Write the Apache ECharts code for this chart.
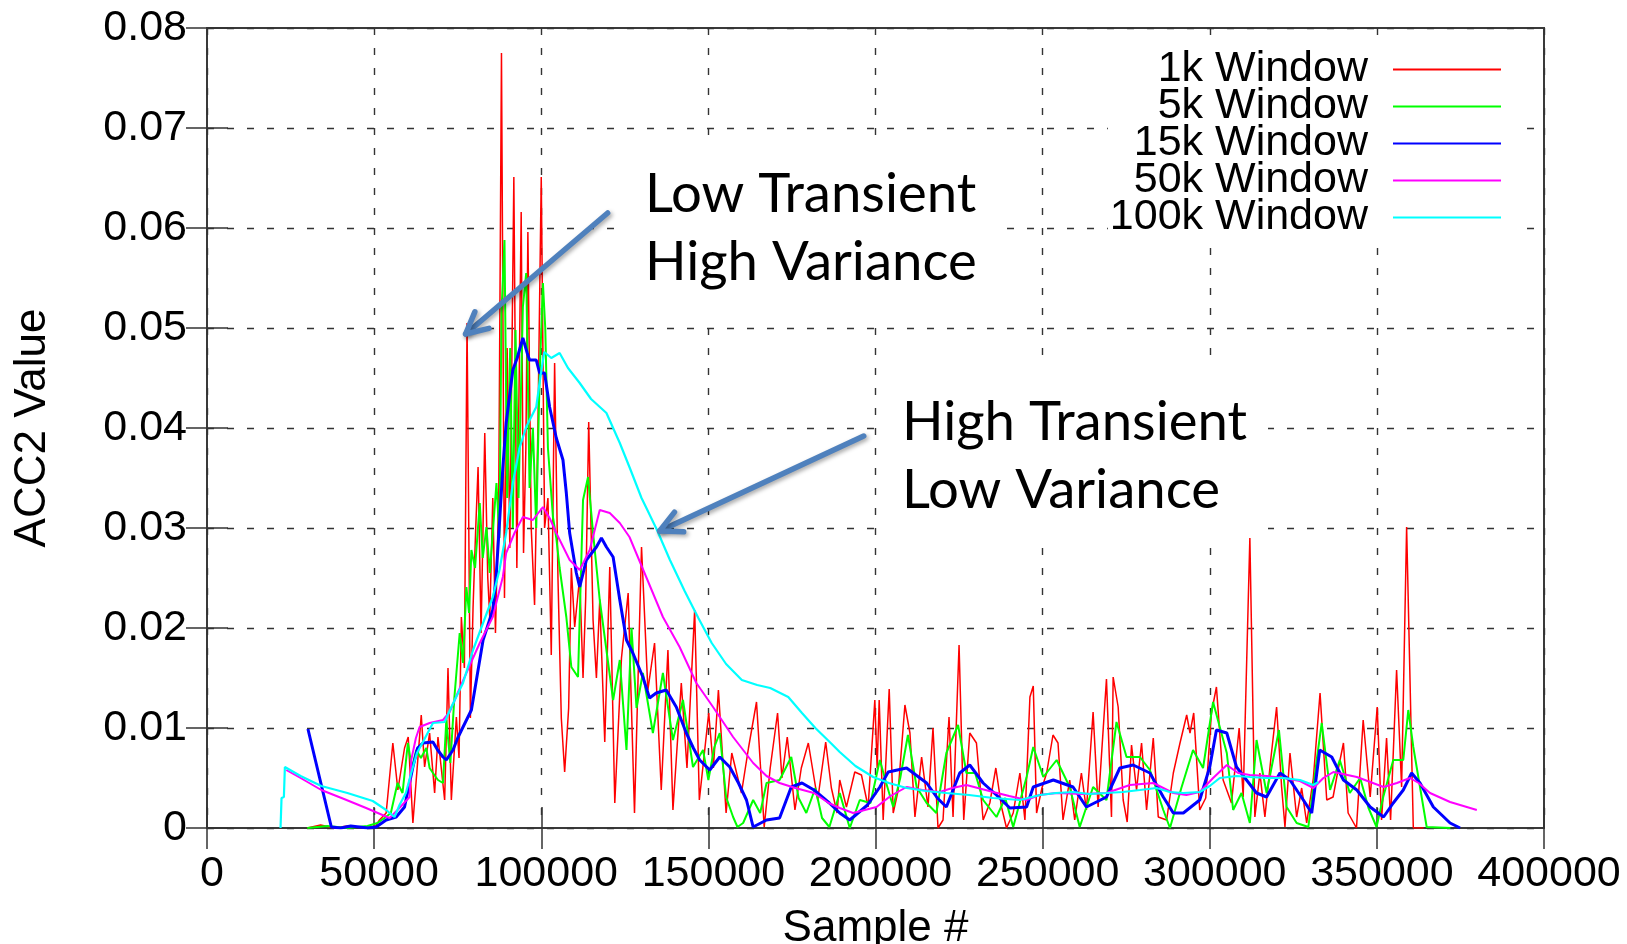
<!DOCTYPE html>
<html>
<head>
<meta charset="utf-8">
<title>ACC2 Value vs Sample #</title>
<script src="https://cdn.jsdelivr.net/npm/echarts@6/dist/echarts.min.js"></script>
<style>
  html, body { margin: 0; padding: 0; background: #fff; }
  #chart { width: 1627px; height: 944px; }
</style>
</head>
<body>
<div id="chart"></div>
<script>
// series names and colours (gnuplot defaults)
var seriesNames = ['1k Window', '5k Window', '15k Window', '50k Window', '100k Window'];
var seriesColors = ['#ff0000', '#00ff00', '#0000ff', '#ff00ff', '#00ffff'];
var seriesWidths = [1.5, 2, 3, 2, 2.2];

// [sample #, ACC2 value]
var win1k = [
  [30000,0],[34000,0.0003],[38000,0],[42000,0.0002],[47000,0],[50500,0.0002],[51600,0.0008],[53600,0.0015],
  [55600,0.0085],[57100,0.0038],[59100,0.0080],[60200,0.0091],[61600,0.0005],[64100,0.0113],[65100,0.0061],
  [66600,0.0095],[68100,0.0035],[69100,0.0091],[71100,0.0028],[72100,0.0160],[73100,0.0028],[74600,0.0111],
  [75400,0.0070],[76100,0.0211],[77000,0.0160],[77800,0.0505],[78800,0.0110],[79600,0.0221],[80400,0.0300],
  [81100,0.0361],[82000,0.0195],[83100,0.0395],[84000,0.0250],[84600,0.0210],[85500,0.0330],[86300,0.0195],
  [87300,0.0340],[88100,0.0775],[89000,0.0230],[89800,0.0480],[90600,0.0280],[91800,0.0651],[92700,0.0260],
  [94000,0.0616],[94700,0.0275],[95400,0.0380],[96000,0.0596],[97000,0.0300],[98000,0.0223],[99000,0.0400],
  [100000,0.0651],[101000,0.0300],[102000,0.0330],[103000,0.0173],[104000,0.0465],[105000,0.0250],
  [106000,0.0110],[107000,0.0056],[108200,0.0120],[109000,0.0260],[110000,0.0201],[111500,0.0251],
  [112500,0.0150],[113300,0.0230],[114200,0.0406],[115500,0.0208],[116500,0.0150],[117500,0.0228],
  [119000,0.0086],[120500,0.0261],[122000,0.0025],[124000,0.0170],[126000,0.0235],[127900,0.0015],
  [130000,0.0281],[131900,0.0138],[133900,0.0185],[135900,0.0038],[137900,0.0178],[139400,0.0018],
  [141900,0.0145],[143600,0.0060],[145900,0.0218],[147300,0.0028],[150100,0.0115],[151500,0.0060],
  [153000,0.0138],[155300,0.0015],[157000,0.0075],[159900,0.0035],[162000,0.0080],[164400,0.0126],
  [166700,0.0001],[168500,0.0060],[170700,0.0115],[172000,0.0050],[173600,0.0091],[175900,0.0018],
  [177800,0.0060],[179900,0.0085],[182700,0.0028],[185100,0.0086],[186800,0.0040],[188500,0.0015],
  [189300,0.0048],[191300,0.0021],[193800,0.0056],[195800,0.0053],[197800,0.0021],[199800,0.0128],
  [200500,0.0060],[201100,0.0128],[202300,0.0008],[204100,0.0139],[205300,0.0015],[206800,0.0038],
  [208800,0.0123],[210300,0.0095],[211800,0.0011],[213800,0.0071],[215700,0.0021],[217200,0.0100],
  [218700,0],[220200,0.0008],[222000,0.0111],[223200,0.0011],[225000,0.0183],[226400,0.0008],
  [228200,0.0095],[230200,0.0085],[232200,0.0008],[234200,0.0025],[236000,0.0060],[237700,0.0021],
  [239200,0],[241200,0.0015],[243200,0.0055],[244700,0.0008],[246200,0.0131],[247200,0.0142],
  [248200,0.0015],[249800,0.0040],[251200,0.0055],[253100,0.0093],[254600,0.0085],[256100,0.0008],
  [258100,0.0048],[259600,0.0008],[261600,0.0055],[263100,0.0018],[265100,0.0116],[266600,0.0021],
  [269100,0.0149],[270600,0.0011],[271100,0.0151],[272600,0.0121],[274100,0.0028],[275300,0.0006],
  [276600,0.0083],[278100,0.0038],[279600,0.0085],[281100,0.0018],[283100,0.0090],[284600,0.0011],
  [287100,0.0008],[289100,0.0055],[291100,0.0085],[293100,0.0113],[294100,0.0095],[295200,0.0115],
  [297000,0.0018],[298800,0.0030],[300500,0.0115],[302000,0.0141],[304000,0.0048],[306500,0.0025],
  [308800,0.0100],[310000,0.0031],[312000,0.0290],[313500,0.0011],[315000,0.0055],[316500,0.0011],
  [318300,0.0070],[320000,0.0121],[321500,0.0041],[322500,0.0001],[324000,0.0075],[326000,0.0011],
  [327500,0.0040],[329000,0.0005],[331000,0.0050],[333000,0.0135],[335000,0.0028],[336900,0.0031],
  [338500,0.0060],[340000,0.0085],[341400,0.0015],[343900,0],[345900,0.0108],[348000,0.0031],
  [350100,0.0121],[351400,0.0008],[352900,0.0090],[354100,0.0008],[355900,0.0158],[357400,0.0041],
  [358900,0.0301],[360900,0],[364000,0]
];

var win5k = [
  [30000,0],[36000,0.0002],[42000,0],[48000,0.0002],[51000,0.0005],[53500,0.0011],[55000,0.0015],
  [57000,0.0045],[58500,0.0035],[60100,0.0085],[61300,0.0060],[62600,0.0078],[64000,0.0070],
  [65600,0.0080],[66600,0.0060],[67600,0.0055],[69100,0.0048],[70600,0.0045],[71600,0.0108],
  [72800,0.0065],[74000,0.0130],[75600,0.0195],[76600,0.0165],[77600,0.0241],[78400,0.0215],
  [79100,0.0278],[80200,0.0260],[81600,0.0325],[82500,0.0270],[83600,0.0301],[84600,0.0255],
  [85600,0.0300],[86600,0.0345],[87500,0.0290],[88100,0.0515],[89000,0.0588],[89800,0.0330],
  [90700,0.0480],[91500,0.0300],[92300,0.0498],[93200,0.0330],[94500,0.0521],[95500,0.0555],
  [96500,0.0340],[97500,0.0400],[98500,0.0300],[99500,0.0450],[100500,0.0545],[101200,0.0500],
  [102000,0.0380],[103500,0.0311],[104500,0.0290],[105500,0.0260],[107500,0.0211],[109000,0.0161],
  [111000,0.0151],[112500,0.0328],[114000,0.0351],[115500,0.0295],[117500,0.0228],[119500,0.0178],
  [121500,0.0128],[123500,0.0168],[125500,0.0078],[127000,0.0200],[128500,0.0120],[130400,0.0155],
  [133400,0.0095],[136400,0.0155],[139400,0.0088],[142400,0.0128],[145400,0.0061],[148400,0.0078],
  [150000,0.0048],[151800,0.0081],[153400,0.0095],[155300,0.0031],[157400,0.0011],[158700,0.0001],
  [160400,0.0005],[163400,0.0028],[165500,0.0015],[167400,0.0045],[171300,0.0048],[174800,0.0071],
  [177000,0.0030],[179300,0.0015],[182000,0.0040],[184000,0.0010],[186200,0.0001],[189300,0.0035],
  [192300,0],[195300,0.0028],[198500,0.0025],[201300,0.0068],[203200,0.0045],[205300,0.0021],
  [207400,0.0050],[209700,0.0093],[212300,0.0041],[215300,0.0025],[218200,0.0015],[221200,0.0075],
  [224700,0.0103],[227200,0.0055],[229800,0.0055],[232200,0.0028],[236200,0.0011],[238800,0.0030],
  [241200,0.0001],[245200,0.0051],[247200,0.0081],[250200,0.0051],[254200,0.0068],[258100,0.0041],
  [261100,0.0001],[265100,0.0041],[269100,0.0028],[272100,0.0106],[275100,0.0071],[279100,0.0071],
  [282100,0.0058],[286100,0.0018],[288100,0],[291500,0.0040],[295000,0.0078],[298000,0.0060],
  [301000,0.0126],[303000,0.0101],[305100,0.0075],[307000,0.0018],[309500,0.0035],[312000,0.0005],
  [314000,0.0088],[317000,0.0035],[320700,0.0098],[323000,0.0021],[326000,0.0005],[329500,0.0001],
  [332000,0.0068],[333500,0.0105],[336000,0.0038],[338900,0.0068],[341900,0.0035],[345000,0.0050],
  [347500,0.0020],[349900,0.0001],[351900,0.0031],[354900,0.0068],[357900,0.0068],[359400,0.0118],
  [360900,0.0081],[362900,0.0041],[364900,0.0001],[372000,0]
];

var win15k = [
  [30200,0.0099],[33700,0.0050],[37200,0.0001],[40000,0],[43000,0.0002],[48100,0],[50600,0.0001],
  [53600,0.0008],[56600,0.0011],[59100,0.0021],[59600,0.0023],[61600,0.0061],[63000,0.0080],
  [64600,0.0085],[67600,0.0086],[69000,0.0078],[70600,0.0071],[71600,0.0068],[73600,0.0078],
  [75000,0.0090],[76600,0.0101],[79100,0.0118],[80600,0.0148],[82600,0.0188],[85500,0.0218],
  [86500,0.0251],[87600,0.0310],[88500,0.0360],[89500,0.0405],[91500,0.0458],[92800,0.0470],
  [94500,0.0490],[95800,0.0475],[96500,0.0468],[98500,0.0468],[99500,0.0455],[101000,0.0455],
  [102500,0.0421],[104500,0.0390],[106500,0.0368],[107500,0.0335],[108500,0.0295],[110500,0.0255],
  [111500,0.0241],[113500,0.0268],[116500,0.0281],[118000,0.0290],[119500,0.0281],[121500,0.0271],
  [123500,0.0228],[125500,0.0188],[127400,0.0175],[130400,0.0151],[132400,0.0130],[134400,0.0135],
  [137400,0.0138],[140400,0.0121],[143400,0.0095],[145500,0.0080],[147400,0.0068],[150400,0.0058],
  [153400,0.0071],[156400,0.0061],[159000,0.0045],[161400,0.0028],[163400,0.0001],[167400,0.0008],
  [171300,0.0010],[174800,0.0041],[178000,0.0045],[181600,0.0038],[186200,0.0025],[189300,0.0015],
  [192300,0.0008],[197600,0.0023],[201300,0.0041],[203800,0.0056],[209300,0.0060],[215300,0.0045],
  [218500,0.0030],[221200,0.0021],[225200,0.0055],[228200,0.0063],[232200,0.0045],[236500,0.0032],
  [240200,0.0020],[245200,0.0021],[247200,0.0041],[253200,0.0048],[259100,0.0041],[263100,0.0021],
  [269100,0.0031],[273100,0.0060],[277100,0.0063],[282100,0.0055],[286100,0.0031],[289100,0.0015],
  [292100,0.0015],[297000,0.0028],[300000,0.0061],[302000,0.0098],[305100,0.0095],[308000,0.0061],
  [311000,0.0048],[314000,0.0035],[317000,0.0031],[321000,0.0055],[324000,0.0048],[328000,0.0028],
  [330500,0.0015],[332900,0.0078],[336500,0.0071],[340000,0.0048],[344000,0.0038],[348000,0.0021],
  [352000,0.0011],[354900,0.0025],[357900,0.0038],[360400,0.0055],[362900,0.0045],[366900,0.0021],
  [371900,0.0005],[374900,0]
];

var win50k = [
  [23700,0.0058],[28000,0.0050],[34200,0.0038],[41000,0.0029],[47600,0.0020],[54600,0.0010],
  [57000,0.0018],[60600,0.0031],[61100,0.0068],[62500,0.0090],[63600,0.0101],[66600,0.0105],
  [70600,0.0108],[72600,0.0116],[75000,0.0135],[77600,0.0155],[81600,0.0185],[85500,0.0211],
  [88500,0.0251],[89500,0.0275],[92000,0.0295],[94500,0.0311],[97500,0.0308],[100500,0.0321],
  [102500,0.0310],[104500,0.0295],[108500,0.0268],[111500,0.0258],[114500,0.0278],[117500,0.0318],
  [120500,0.0315],[123500,0.0305],[126400,0.0291],[131400,0.0251],[136400,0.0211],[141400,0.0181],
  [146400,0.0145],[151400,0.0121],[157400,0.0091],[163400,0.0065],[167400,0.0052],[171300,0.0045],
  [176000,0.0040],[181600,0.0035],[186000,0.0025],[189300,0.0020],[193300,0.0015],[200300,0.0021],
  [204500,0.0032],[209300,0.0041],[214000,0.0038],[219200,0.0036],[223000,0.0040],[227200,0.0043],
  [235200,0.0036],[240000,0.0032],[245200,0.0028],[249000,0.0033],[254200,0.0035],[262000,0.0034],
  [269100,0.0035],[276100,0.0043],[283100,0.0045],[289100,0.0035],[293000,0.0033],[297000,0.0036],
  [301000,0.0050],[305100,0.0063],[308500,0.0055],[312000,0.0053],[317000,0.0052],[322000,0.0050],
  [327000,0.0047],[331000,0.0040],[334000,0.0050],[337000,0.0056],[344000,0.0051],[352000,0.0041],
  [356000,0.0045],[359900,0.0050],[362500,0.0045],[365900,0.0035],[371900,0.0026],[379900,0.0018]
];

var win100k = [
  [22000,0],[22300,0.0030],[23000,0.0031],[23300,0.0061],[28000,0.0052],[34200,0.0042],[42000,0.0035],
  [49600,0.0027],[53600,0.0018],[56100,0.0011],[57600,0.0023],[59500,0.0035],[61100,0.0055],
  [62800,0.0075],[64600,0.0086],[67600,0.0105],[71100,0.0106],[73100,0.0121],[76600,0.0145],
  [79600,0.0178],[82600,0.0205],[85500,0.0231],[87500,0.0258],[89500,0.0295],[91500,0.0345],
  [93500,0.0380],[95500,0.0401],[98500,0.0421],[99700,0.0450],[100900,0.0476],[103000,0.0470],
  [105500,0.0475],[108000,0.0460],[111500,0.0445],[114900,0.0429],[119500,0.0415],[123500,0.0385],
  [126500,0.0360],[130000,0.0330],[134500,0.0299],[138500,0.0268],[142900,0.0237],[147000,0.0210],
  [151000,0.0185],[155300,0.0164],[160000,0.0148],[164600,0.0143],[168500,0.0140],[173900,0.0131],
  [178000,0.0115],[182000,0.0100],[186300,0.0086],[189300,0.0076],[194000,0.0062],[199300,0.0051],
  [204000,0.0045],[209300,0.0040],[215000,0.0037],[221200,0.0035],[228000,0.0033],[235200,0.0030],
  [243200,0.0028],[249200,0.0033],[254000,0.0035],[259100,0.0036],[264000,0.0034],[269100,0.0035],
  [274000,0.0036],[279100,0.0038],[284100,0.0040],[288000,0.0036],[292100,0.0035],[297000,0.0036],
  [300000,0.0042],[303000,0.0050],[308000,0.0052],[312000,0.0051],[317000,0.0050],[322000,0.0050],
  [327000,0.0048],[331000,0.0043],[332500,0.0046]
];

var seriesData = [win1k, win5k, win15k, win50k, win100k];

// annotation text and arrows (tail -> tip, in data units)
var noteLow = ['Low Transient', 'High Variance'];
var noteHigh = ['High Transient', 'Low Variance'];
var arrowLow = [[119860, 0.0615], [77370, 0.0494]];
var arrowHigh = [[196480, 0.0392], [135430, 0.0297]];

var chart = echarts.init(document.getElementById('chart'));
var FONT = '"Liberation Sans", Arial, Helvetica, sans-serif';
var GRIDC = '#333';

var series = seriesNames.map(function (name, i) {
  return {
    name: name,
    type: 'line',
    data: seriesData[i],
    showSymbol: false,
    symbol: 'none',
    xAxisIndex: 0,
    yAxisIndex: 0,
    lineStyle: { color: seriesColors[i], width: seriesWidths[i] },
    itemStyle: { color: seriesColors[i] },
    emphasis: { disabled: true }
  };
});

chart.setOption({
  animation: false,
  backgroundColor: '#fff',
  grid: { left: 207, top: 28, right: 83, bottom: 116, outerBoundsMode: 'none', containLabel: false,
    show: true, borderColor: '#3a3a3a', borderWidth: 2 },
  legend: {
    data: seriesNames,
    orient: 'vertical',
    align: 'right',
    right: 104,
    top: 47,
    padding: [1, 22, 5, 2],
    backgroundColor: '#fff',
    icon: 'rect',
    itemWidth: 108,
    itemHeight: 2,
    itemGap: -6,
    selectedMode: false,
    textStyle: { fontFamily: FONT, fontSize: 43, color: '#000', lineHeight: 37, padding: [0, 20, 0, 0] }
  },
  xAxis: [{
    type: 'value', min: 0, max: 400000, interval: 50000,
    name: 'Sample #', nameLocation: 'middle', nameGap: 79,
    nameTextStyle: { fontFamily: FONT, fontSize: 44, color: '#000' },
    axisLine: { show: false },
    axisTick: { inside: true, length: 21, lineStyle: { color: GRIDC, width: 1.5 } },
    axisLabel: { fontFamily: FONT, fontSize: 43, color: '#000', margin: 25, padding: [0, 0, 0, 10],
      formatter: function (v) { return String(v); } },
    splitLine: { show: true, lineStyle: { color: GRIDC, width: 1.4, type: [7, 13] } }
  }, {
    type: 'value', min: 0, max: 400000, interval: 50000, position: 'top',
    axisLine: { show: false },
    axisTick: { inside: true, length: 21, lineStyle: { color: GRIDC, width: 1.5 } },
    axisLabel: { show: false },
    splitLine: { show: false }
  }],
  yAxis: [{
    type: 'value', min: 0, max: 0.08, interval: 0.01,
    name: 'ACC2 Value', nameLocation: 'middle', nameGap: 152,
    nameTextStyle: { fontFamily: FONT, fontSize: 44, color: '#000' },
    axisLine: { show: false },
    axisTick: { inside: true, length: 21, lineStyle: { color: GRIDC, width: 1.5 } },
    axisLabel: { fontFamily: FONT, fontSize: 43, color: '#000', margin: 20,
      formatter: function (v) { return v === 0 ? '0' : v.toFixed(2); } },
    splitLine: { show: true, lineStyle: { color: GRIDC, width: 1.4, type: [7, 13] } }
  }, {
    type: 'value', min: 0, max: 0.08, interval: 0.01, position: 'right',
    axisLine: { show: false },
    axisTick: { inside: true, length: 21, lineStyle: { color: GRIDC, width: 1.5 } },
    axisLabel: { show: false },
    splitLine: { show: false }
  }],
  series: series
});

// annotations: white boxes, text, and arrows converted from data space
var ARROWC = '#4f81bd';
var arrowStyle = {
  stroke: ARROWC, lineWidth: 5.5, lineCap: 'round', lineJoin: 'round', fill: null,
  shadowBlur: 4, shadowColor: 'rgba(0,0,0,0.35)', shadowOffsetX: 2, shadowOffsetY: 2
};

function arrow(tailTip) {
  var a = chart.convertToPixel({ gridIndex: 0 }, tailTip[0]);
  var b = chart.convertToPixel({ gridIndex: 0 }, tailTip[1]);
  var ang = Math.atan2(a[1] - b[1], a[0] - b[0]);
  var len = 24, spread = 0.47;
  var w1 = [b[0] + len * Math.cos(ang + spread), b[1] + len * Math.sin(ang + spread)];
  var w2 = [b[0] + len * Math.cos(ang - spread), b[1] + len * Math.sin(ang - spread)];
  return [
    { type: 'polyline', z: 20, shape: { points: [a, b] }, style: arrowStyle },
    { type: 'polyline', z: 20, shape: { points: [w1, b, w2] }, style: arrowStyle }
  ];
}

function note(lines, x, y, box) {
  var els = [{ type: 'rect', z: 1, shape: { x: box[0], y: box[1], width: box[2], height: box[3] },
    style: { fill: '#fff' } }];
  lines.forEach(function (t, i) {
    els.push({ type: 'text', z: 20, x: x, y: y + i * 68,
      style: { text: t, fontFamily: 'Lato, "Open Sans", sans-serif', fontSize: 54.5, fill: '#000',
        textAlign: 'left', textVerticalAlign: 'middle' } });
  });
  return els;
}

var graphics = []
  .concat(note(noteLow, 645, 194, [617, 140, 381, 178]))
  .concat(note(noteHigh, 902, 422, [877, 368, 391, 174]))
  .concat(arrow(arrowLow))
  .concat(arrow(arrowHigh));

chart.setOption({ graphic: graphics });
</script>
</body>
</html>
